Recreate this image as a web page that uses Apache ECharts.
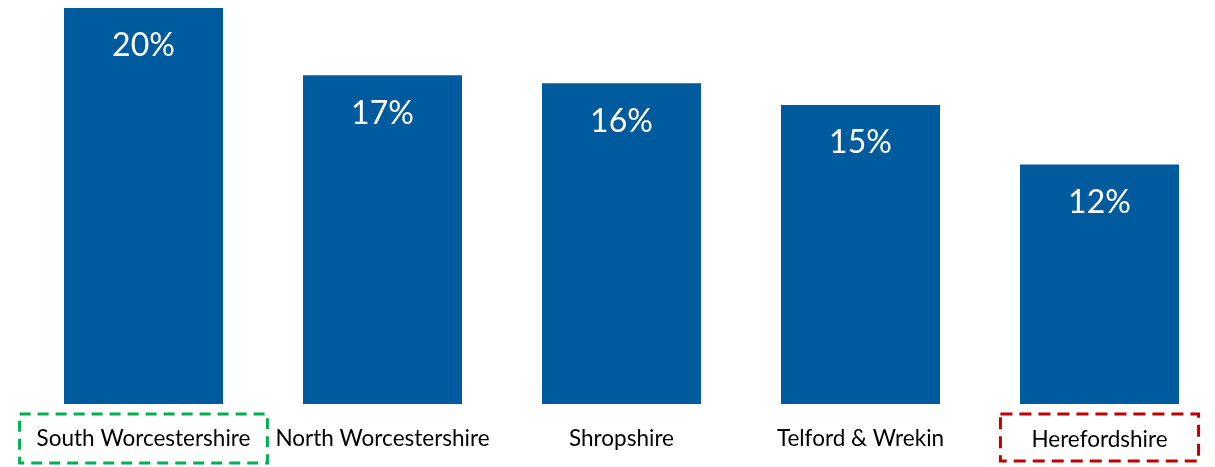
<!DOCTYPE html>
<html>
<head>
<meta charset="utf-8">
<script src="https://cdn.jsdelivr.net/npm/echarts@6/dist/echarts.min.js"></script>
<style>html,body{margin:0;padding:0;background:#fff}#c{width:1215px;height:467px}</style>
</head>
<body>
<div id="c"></div>
<script>
const categories = ['South Worcestershire', 'North Worcestershire', 'Shropshire', 'Telford & Wrekin', 'Herefordshire'];
const values = [20.0, 16.6, 16.2, 15.1, 12.1];
const labelStyles = ['g', 'n', 'n', 'n', 'r'];

const chart = echarts.init(document.getElementById('c'));
const font = 'Lato';
chart.setOption({
  animation: false,
  grid: { left: 24, width: 1195, top: 8, bottom: 63, containLabel: false, outerBoundsMode: 'none' },
  xAxis: {
    type: 'category',
    data: categories,
    axisLine: { show: false },
    axisTick: { show: false },
    axisLabel: {
      interval: 0,
      margin: 10,
      formatter: function (v, i) { return '{' + labelStyles[i] + '|' + v + '}'; },
      rich: {
        n: { fontFamily: font, fontSize: 22.5, color: '#000', padding: [13, 0, 13, 0] },
        g: { fontFamily: font, fontSize: 22.5, color: '#000', padding: [13, 17, 13, 17],
             borderColor: '#00B050', borderWidth: 3, borderType: [11, 7] },
        r: { fontFamily: font, fontSize: 22.5, color: '#000', padding: [14, 31, 10, 31],
             borderColor: '#C00000', borderWidth: 3, borderType: [12, 7] }
      }
    }
  },
  yAxis: {
    type: 'value', min: 0, max: 20,
    show: false,
    splitLine: { show: false }
  },
  series: [{
    type: 'bar',
    data: values,
    barWidth: 159,
    itemStyle: { color: '#005A9E' },
    label: {
      show: true,
      position: 'insideTop',
      distance: 22,
      color: '#fff',
      fontFamily: font,
      fontSize: 32,
      formatter: function (p) { return Math.round(p.value) + '%'; }
    }
  }]
});
</script>
</body>
</html>
